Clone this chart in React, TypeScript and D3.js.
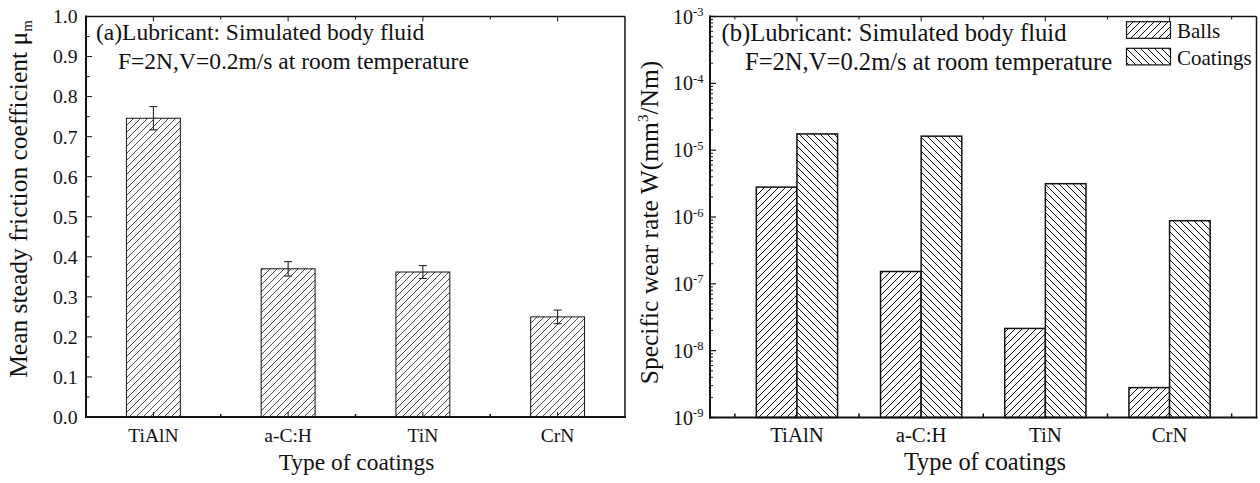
import React from 'react';
import * as d3 from 'd3';

const categories = ['TiAlN', 'a-C:H', 'TiN', 'CrN'];
const frictionMean = [0.746, 0.370, 0.362, 0.250];
const frictionErr = [0.029, 0.018, 0.016, 0.017];
const ballsWear = [2.8e-6, 1.53e-7, 2.15e-8, 2.8e-9];
const coatingsWear = [1.75e-5, 1.62e-5, 3.15e-6, 8.8e-7];
const frictionTicks = [0, 0.1, 0.2, 0.3, 0.4, 0.5, 0.6, 0.7, 0.8, 0.9, 1.0];
const wearExponents = [-9, -8, -7, -6, -5, -4, -3];
const legendLabels = ['Balls', 'Coatings'];

const FONT = '"Liberation Serif", "Times New Roman", serif';

export default function App() {
  // ---------- panel (a) ----------
  const aL = 86, aR = 625, aT = 16.5, aB = 417;
  const xa = d3.scaleLinear().domain([0.5, 4.5]).range([aL, aR]);
  const ya = d3.scaleLinear().domain([0, 1]).range([aB, aT]);
  const barWA = 0.4;
  const fmt = d3.format('.1f');
  const aMinorY = d3.range(0.05, 1.0, 0.1);

  // ---------- panel (b) ----------
  const bL = 710, bR = 1256.5, bT = 16.5, bB = 417.5;
  const xb = d3.scaleLinear().domain([0.3, 4.7]).range([bL, bR]);
  const yb = d3.scaleLog().domain([1e-9, 1e-3]).range([bB, bT]);
  const barWB = 0.327;
  const bMinorY: number[] = [];
  for (let e = -9; e < -3; e++) for (let m = 2; m <= 9; m++) bMinorY.push(m * Math.pow(10, e));

  const catIdx = categories.map((_, i) => i + 1);
  const halfIdxA = [1.5, 2.5, 3.5];
  const halfIdxB = [0.5, 1.5, 2.5, 3.5, 4.5];

  return (
    <svg width={1260} height={483} style={{ position: 'absolute', left: 0, top: 0, background: '#fff' }} fontFamily={FONT}>
      <defs>
        <pattern id="hatchA" patternUnits="userSpaceOnUse" width={7} height={7}>
          <rect width={7} height={7} fill="#fff" />
          <path d="M0,7 L7,0 M-1,1 L1,-1 M6,8 L8,6" stroke="#333" strokeWidth={0.9} />
        </pattern>
        <pattern id="hatchFwd" patternUnits="userSpaceOnUse" width={7} height={7}>
          <rect width={7} height={7} fill="#fff" />
          <path d="M0,7 L7,0 M-1,1 L1,-1 M6,8 L8,6" stroke="#111" strokeWidth={1} />
        </pattern>
        <pattern id="hatchBack" patternUnits="userSpaceOnUse" width={7} height={7}>
          <rect width={7} height={7} fill="#fff" />
          <path d="M0,0 L7,7 M-1,6 L1,8 M6,-1 L8,1" stroke="#111" strokeWidth={1} />
        </pattern>
        <pattern id="legFwd" patternUnits="userSpaceOnUse" width={10} height={16} x={1127} y={0}>
          <rect width={10} height={16} fill="#fff" />
          <path d="M0,16 L10,0" stroke="#111" strokeWidth={1} />
        </pattern>
        <pattern id="legBack" patternUnits="userSpaceOnUse" width={10} height={16} x={1127} y={0}>
          <rect width={10} height={16} fill="#fff" />
          <path d="M0,0 L10,16" stroke="#111" strokeWidth={1} />
        </pattern>
      </defs>

      {/* ===== Panel (a) ===== */}
      <g>
        {frictionMean.map((v, i) => {
          const c = catIdx[i];
          const x0 = xa(c - barWA / 2), x1 = xa(c + barWA / 2);
          return (
            <rect key={'ba' + i} x={x0} y={ya(v)} width={x1 - x0} height={ya(0) - ya(v)}
              fill="url(#hatchA)" stroke="#111" strokeWidth={1} />
          );
        })}
        {frictionMean.map((v, i) => {
          const cx = xa(catIdx[i]);
          const yt = ya(v + frictionErr[i]), yb2 = ya(v - frictionErr[i]);
          return (
            <g key={'ea' + i} stroke="#111" strokeWidth={1}>
              <line x1={cx} x2={cx} y1={yt} y2={yb2} />
              <line x1={cx - 4} x2={cx + 4} y1={yt} y2={yt} />
              <line x1={cx - 4} x2={cx + 4} y1={yb2} y2={yb2} />
            </g>
          );
        })}
        <line x1={aL} x2={aR} y1={aT} y2={aT} stroke="#111" strokeWidth={1.5} />
        <line x1={aR} x2={aR} y1={aT} y2={aB} stroke="#111" strokeWidth={1.5} />
        <line x1={aL} x2={aL} y1={aT - 1} y2={aB + 1} stroke="#111" strokeWidth={2} />
        <line x1={aL - 1} x2={aR + 1} y1={aB} y2={aB} stroke="#111" strokeWidth={2} />
        {frictionTicks.map((t) => (
          <g key={'yta' + t}>
            <line x1={aL} x2={aL + 6} y1={ya(t)} y2={ya(t)} stroke="#111" strokeWidth={1} />
            <text x={aL - 8.5} y={ya(t)} dy="0.35em" textAnchor="end" fontSize={19.7} fill="#111">{fmt(t)}</text>
          </g>
        ))}
        {aMinorY.map((t) => (
          <line key={'yma' + t} x1={aL} x2={aL + 3.5} y1={ya(t)} y2={ya(t)} stroke="#111" strokeWidth={1} />
        ))}
        {catIdx.map((c, i) => (
          <g key={'xta' + c}>
            <line x1={xa(c)} x2={xa(c)} y1={aB} y2={aB - 5} stroke="#111" strokeWidth={1} />
            <line x1={xa(c)} x2={xa(c)} y1={aT} y2={aT + 5} stroke="#111" strokeWidth={1} />
            <text x={xa(c)} y={441.5} textAnchor="middle" fontSize={19.5} fill="#111">{categories[i]}</text>
          </g>
        ))}
        {halfIdxA.map((c) => (
          <g key={'xma' + c}>
            <line x1={xa(c)} x2={xa(c)} y1={aB} y2={aB - 3} stroke="#111" strokeWidth={1.5} />
            <line x1={xa(c)} x2={xa(c)} y1={aT} y2={aT + 3} stroke="#111" strokeWidth={1} />
          </g>
        ))}
        <text x={356.5} y={470} textAnchor="middle" fontSize={23.4} fill="#111">Type of coatings</text>
        <text transform={`translate(27,199) rotate(-90)`} textAnchor="middle" fontSize={25.5} fill="#111">
          Mean steady friction coefficient μ<tspan fontSize={15} dy={5}>m</tspan>
        </text>
        <text x={96} y={40} fontSize={23.5} fill="#111">(a)Lubricant: Simulated body fluid</text>
        <text x={118} y={69} fontSize={23.5} fill="#111">F=2N,V=0.2m/s at room temperature</text>
      </g>

      {/* ===== Panel (b) ===== */}
      <g>
        {categories.map((_, i) => {
          const c = catIdx[i];
          const xb0 = xb(c - barWB), xm = xb(c), xb1 = xb(c + barWB);
          return (
            <g key={'bb' + i}>
              <rect x={xb0} y={yb(ballsWear[i])} width={xm - xb0} height={yb(1e-9) - yb(ballsWear[i])}
                fill="url(#hatchFwd)" stroke="#111" strokeWidth={1.5} />
              <rect x={xm} y={yb(coatingsWear[i])} width={xb1 - xm} height={yb(1e-9) - yb(coatingsWear[i])}
                fill="url(#hatchBack)" stroke="#111" strokeWidth={1.5} />
            </g>
          );
        })}
        <line x1={bL} x2={bR} y1={bT} y2={bT} stroke="#111" strokeWidth={1.5} />
        <line x1={bR} x2={bR} y1={bT} y2={bB} stroke="#111" strokeWidth={1.5} />
        <line x1={bL} x2={bL} y1={bT - 1} y2={bB + 1} stroke="#111" strokeWidth={2} />
        <line x1={bL - 1} x2={bR + 1} y1={bB} y2={bB} stroke="#111" strokeWidth={2} />
        {wearExponents.map((e) => {
          const y = yb(Math.pow(10, e));
          return (
            <g key={'ytb' + e}>
              <line x1={bL} x2={bL + 6} y1={y} y2={y} stroke="#111" strokeWidth={1.2} />
              <text x={bL - 6.5} y={y + 7} textAnchor="end" fontSize={20} fill="#111">
                10<tspan fontSize={12.5} dy={-7.5}>{String(e)}</tspan>
              </text>
            </g>
          );
        })}
        {bMinorY.map((t, k) => (
          <line key={'ymb' + k} x1={bL} x2={bL + 3} y1={yb(t)} y2={yb(t)} stroke="#111" strokeWidth={1} />
        ))}
        {catIdx.map((c, i) => (
          <g key={'xtb' + c}>
            <line x1={xb(c)} x2={xb(c)} y1={bT} y2={bT + 5} stroke="#111" strokeWidth={1} />
            <text x={xb(c)} y={441.5} textAnchor="middle" fontSize={20.8} fill="#111">{categories[i]}</text>
          </g>
        ))}
        {halfIdxB.map((c) => (
          <g key={'xmb' + c}>
            <line x1={xb(c)} x2={xb(c)} y1={bB} y2={bB - 4} stroke="#111" strokeWidth={1.5} />
            <line x1={xb(c)} x2={xb(c)} y1={bT} y2={bT + 3} stroke="#111" strokeWidth={1} />
          </g>
        ))}
        <text x={985} y={470} textAnchor="middle" fontSize={24.4} fill="#111">Type of coatings</text>
        <text transform={`translate(658,222.5) rotate(-90)`} textAnchor="middle" fontSize={25.5} fill="#111">
          Specific wear rate W(mm<tspan fontSize={15} dy={-10}>3</tspan><tspan dy={10}>/Nm)</tspan>
        </text>
        <text x={721.5} y={41} fontSize={24.6} fill="#111">(b)Lubricant: Simulated body fluid</text>
        <text x={745} y={70} fontSize={24.6} fill="#111">F=2N,V=0.2m/s at room temperature</text>
        {legendLabels.map((lab, i) => {
          const y0 = 21.7 + i * 26.6;
          return (
            <g key={'lg' + i}>
              <rect x={1126.5} y={y0} width={44} height={16.6}
                fill={i === 0 ? 'url(#hatchFwd)' : 'url(#hatchBack)'} stroke="#111" strokeWidth={1.2} />
              <text x={1177} y={y0 + 16.5} fontSize={21} fill="#111">{lab}</text>
            </g>
          );
        })}
      </g>
    </svg>
  );
}
